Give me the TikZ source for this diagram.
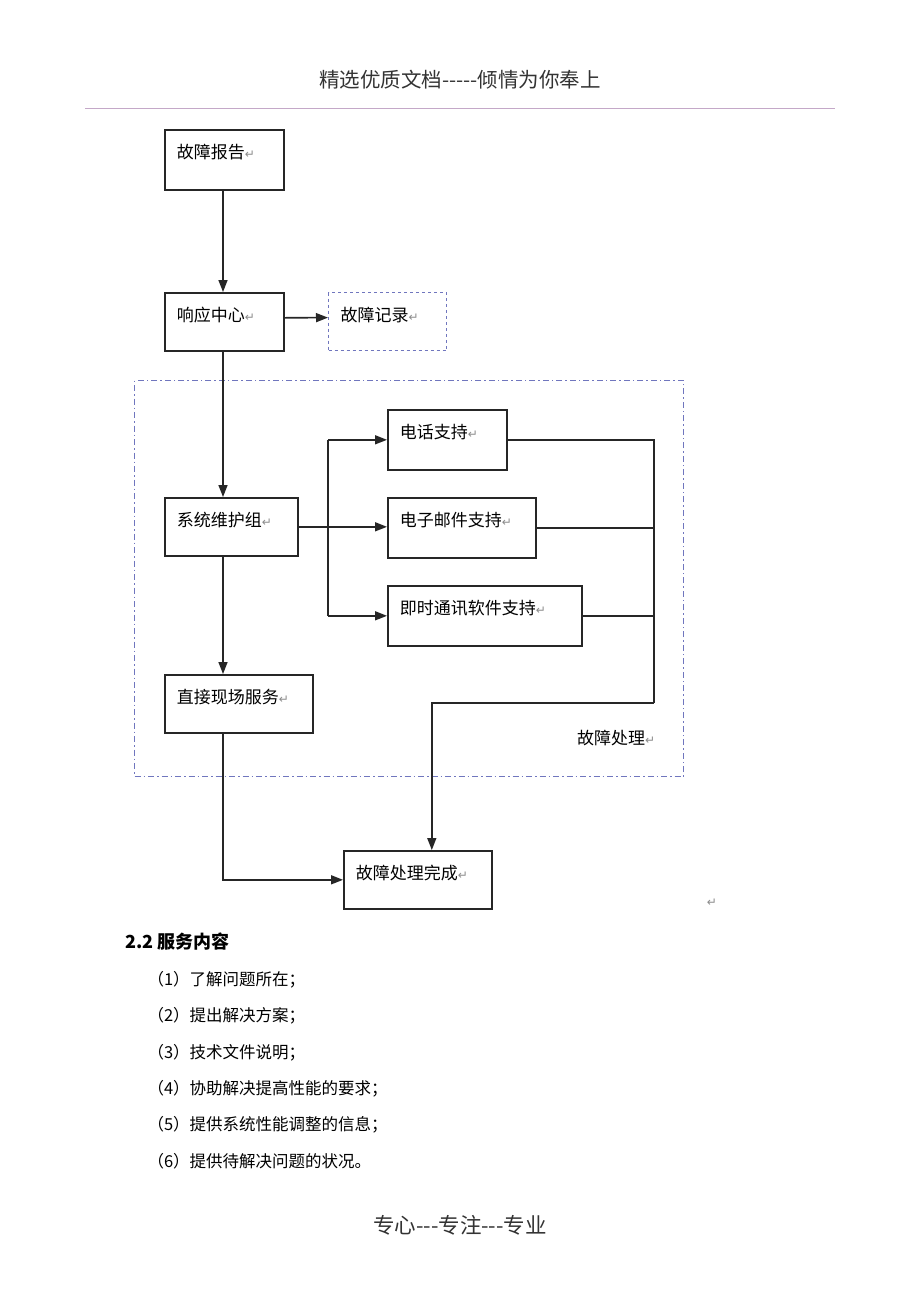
\documentclass[tikz,border=0pt]{standalone}
\usepackage{fontspec}
\setmainfont{Noto Sans CJK SC}
\newfontfamily\symfont{DejaVu Sans}
\usepackage{tikz}
\usetikzlibrary{positioning,arrows.meta,calc}
\usepackage{xcolor}
\definecolor{linec}{RGB}{38,38,38}
\definecolor{frameblue}{RGB}{112,118,190}
\definecolor{rulec}{RGB}{196,168,200}
\definecolor{markgray}{RGB}{140,140,140}
\newcommand{\retmark}{{\color{markgray}\symfont\fontsize{12}{12}\selectfont ↵}}
\newcommand{\hy}{\mbox{-}}

\tikzset{
  stage/.style={draw=linec, line width=1.6pt, anchor=north west, inner xsep=12pt,
    inner ysep=0pt, align=left, text height=29pt, font=\fontsize{17}{17}\selectfont},
  flow/.style={draw=linec, line width=1.6pt, -{Triangle[length=12pt,width=9pt]}},
  link/.style={draw=linec, line width=1.6pt},
}

\begin{document}
\begin{tikzpicture}[x=1pt, y=-1pt]
  \fill[white] (0,0) rectangle (920,1302);
  \useasboundingbox (0,0) rectangle (920,1302);

  % page header
  \node (head) at (460,80) {\fontsize{20.5}{20.5}\selectfont\color{black!80}精选优质文档\hy\hy\hy\hy\hy 倾情为你奉上};
  \draw[rulec, line width=1pt] (85,108) -- (835,108);

  % fault handling region
  \node (handle) [draw=frameblue, line width=1pt, dash pattern=on 6pt off 3pt on 1.5pt off 3pt,
    anchor=north west, minimum width=549pt, minimum height=396pt, inner sep=0pt] at (134,380) {};
  \node (handlelbl) [anchor=west, inner sep=0pt, font=\fontsize{17}{17}\selectfont] at (577,738) {故障处理\retmark};

  % stages
  \node (report) [stage, text width=95pt, text depth=31pt] at (164,129) {故障报告\retmark};
  \node (center) [stage, text width=95pt, text depth=29pt] at (164,292) {响应中心\retmark};
  \node (record) [stage, draw=frameblue, line width=1.2pt, dashed, text width=94pt, text depth=29pt] at (328,292) {故障记录\retmark};
  \node (maint)  [stage, text width=109pt, text depth=29pt] at (164,497) {系统维护组\retmark};
  \node (phone)  [stage, text width=95pt, text depth=31pt] at (387,409) {电话支持\retmark};
  \node (email)  [stage, text width=124pt, text depth=31pt] at (387,497) {电子邮件支持\retmark};
  \node (im)     [stage, text width=170pt, text depth=31pt] at (387,585) {即时通讯软件支持\retmark};
  \node (onsite) [stage, text width=124pt, text depth=29pt] at (164,674) {直接现场服务\retmark};
  \node (done)   [stage, text width=124pt, text depth=29pt] at (343,850) {故障处理完成\retmark};

  \coordinate (spine) at (223,0);
  \coordinate (split) at (328,527);
  \coordinate (join) at (654,703);

  % connectors
  \draw[flow] (report.south -| spine) -- (center.north -| spine);
  \draw[flow] ([yshift=4pt]center.east) -- ([yshift=4pt]record.west);
  \draw[flow] (center.south -| spine) -- (maint.north -| spine);
  \draw[flow] (maint.east) -- (maint.east -| email.west);
  \draw[link] (split |- phone.west) -- (split |- im.west);
  \draw[flow] (split |- phone.west) -- (phone.west);
  \draw[flow] (split |- im.west) -- (im.west);
  \draw[flow] (maint.south -| spine) -- (onsite.north -| spine);
  \draw[flow] (onsite.south -| spine) |- (done.west);
  \draw[link] (phone.east) -| (join);
  \draw[link] (email.east) -- (email.east -| join);
  \draw[link] (im.east) -- (im.east -| join);
  \draw[flow] (join) -| ([xshift=14pt]done.north);

  \node (endmark) at (712,903) {\retmark};

  % service list
  \node (sec) [anchor=west, font=\fontsize{18}{18}\selectfont\bfseries] at (122,942) {2.2 服务内容};
  \foreach \txt [count=\i] in {了解问题所在；, 提出解决方案；, 技术文件说明；,
      协助解决提高性能的要求；, 提供系统性能调整的信息；, 提供待解决问题的状况。}
    \node (item\i) [anchor=west, font=\fontsize{16.5}{16.5}\selectfont] at (144,{980+36.2*(\i-1)}) {（\i）\txt};

  % page footer
  \node (foot) at (460,1225) {\fontsize{21.5}{21.5}\selectfont\color{black!80}专心\hy\hy\hy 专注\hy\hy\hy 专业};
\end{tikzpicture}
\end{document}
